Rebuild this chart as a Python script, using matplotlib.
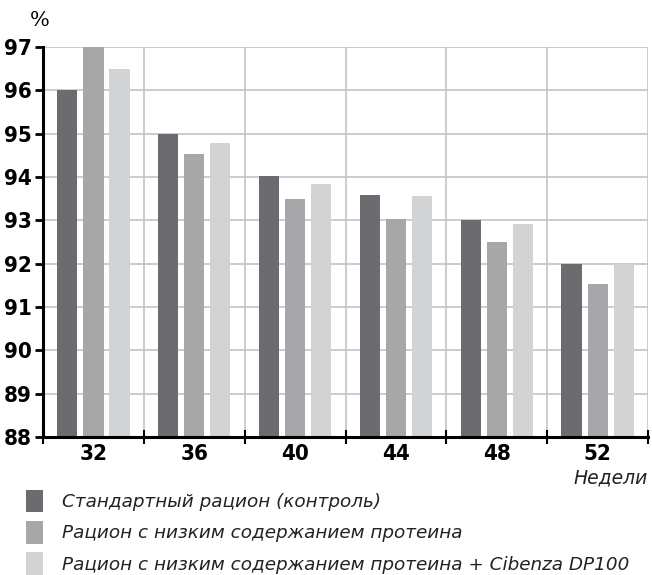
import numpy as np
import matplotlib
matplotlib.use('Agg')
import matplotlib.pyplot as plt

weeks = ['32', '36', '40', '44', '48', '52']
control = [96.0, 95.0, 94.02, 93.58, 93.0, 92.0]
low_protein = [97.0, 94.54, 93.49, 93.02, 92.5, 91.52]
low_protein_cibenza = [96.5, 94.79, 93.84, 93.56, 92.92, 92.0]
labels = ['Стандартный рацион (контроль)',
          'Рацион с низким содержанием протеина',
          'Рацион с низким содержанием протеина + Cibenza DP100']
colors = ['#6b6b70', '#a7a7aa', '#d2d3d5']

tick_font = {'family': 'DejaVu Sans', 'stretch': 'condensed', 'weight': 'bold', 'size': 16}

fig = plt.figure(figsize=(6.52, 5.75), dpi=100)
ax = fig.add_axes([43 / 652, 1 - 437 / 575, 605 / 652, 390 / 575])

x = np.arange(len(weeks))
w = 0.2
step = 0.258
for i, (vals, c, lab) in enumerate(zip([control, low_protein, low_protein_cibenza], colors, labels)):
    ax.bar(x + (i - 1) * step, np.array(vals) - 88, bottom=88, width=w, color=c, label=lab, zorder=3)

ax.set_xlim(-0.5, len(weeks) - 0.5)
ax.set_ylim(88, 97)
ax.set_yticks(range(88, 98))
ax.set_yticklabels([str(v) for v in range(88, 98)], fontdict=tick_font)
ax.set_xticks(x)
ax.set_xticklabels(weeks, fontdict=tick_font)
ax.tick_params(axis='x', length=0, pad=5)
ax.tick_params(axis='y', length=6, width=2, direction='out', pad=2)

# group boundaries: minor ticks crossing the axis + vertical grid
bounds = np.arange(-0.5, len(weeks))
ax.set_xticks(bounds, minor=True)
ax.tick_params(axis='x', which='minor', length=10, width=1.5, direction='inout')
ax.grid(True, axis='y', which='major', color='#c4c4c4', linewidth=1.2, zorder=0)
ax.grid(True, axis='x', which='minor', color='#c4c4c4', linewidth=1.2, zorder=0)

for s in ['top', 'right']:
    ax.spines[s].set_visible(False)
ax.spines['left'].set_linewidth(2.2)
ax.spines['bottom'].set_linewidth(2.2)
ax.spines['bottom'].set_zorder(4)

fig.text(40 / 652, 1 - 21 / 575, '%', ha='center', va='center', fontsize=15,
         family='DejaVu Serif')
fig.text(648 / 652, 1 - 478 / 575, 'Недели', ha='right', va='center', fontsize=13.5,
         style='italic', color='#222222')

leg = fig.legend(loc='upper left', bbox_to_anchor=(26 / 652, 1 - 490 / 575), frameon=False,
                 prop={'size': 13.2, 'style': 'italic'}, handlelength=0.9, handleheight=1.5,
                 handletextpad=1.05, labelspacing=0.48, borderaxespad=0, borderpad=0)
for t in leg.get_texts():
    t.set_color('#222222')

fig.savefig('out.png', dpi=100)
